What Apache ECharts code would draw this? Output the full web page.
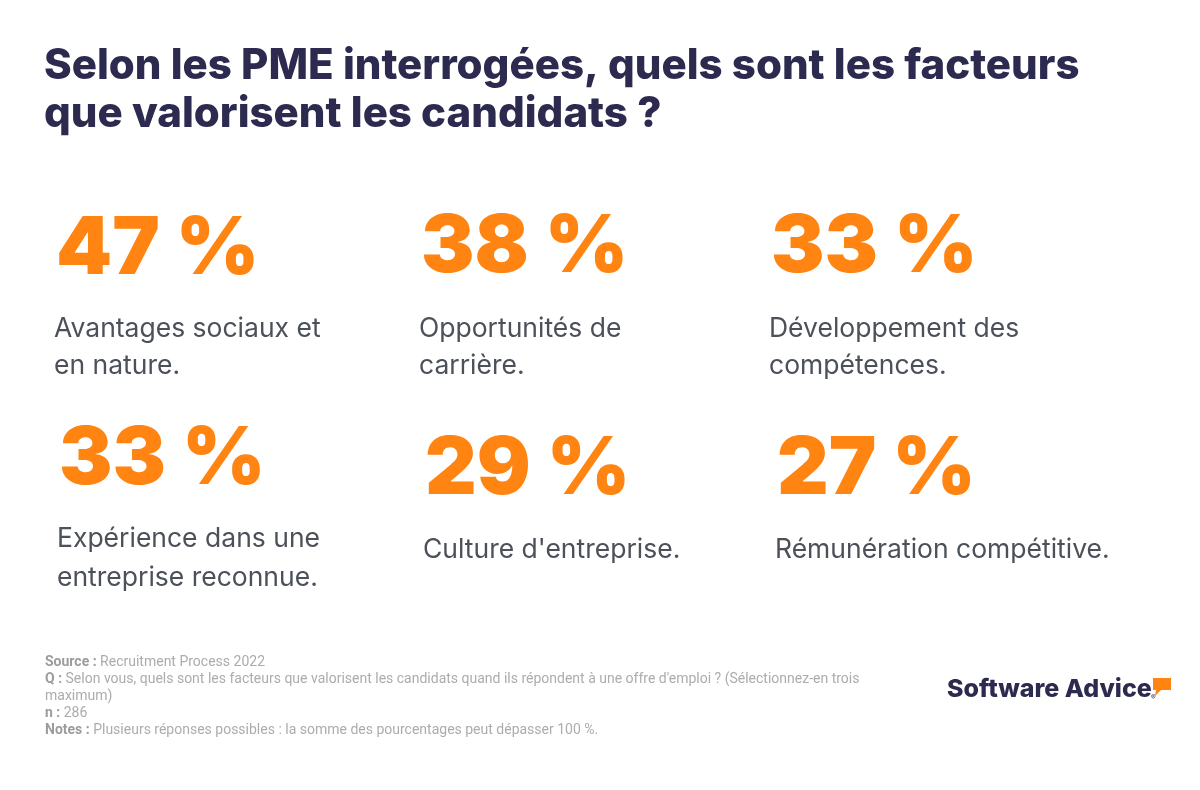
<!DOCTYPE html>
<html><head><meta charset="utf-8">
<script src="https://cdn.jsdelivr.net/npm/echarts@6/dist/echarts.min.js"></script>
<style>html,body{margin:0;padding:0;background:#fff}#c{width:1200px;height:790px}</style>
</head><body><div id="c"></div>
<script>
const titleLines = ["Selon les PME interrogées, quels sont les facteurs", "que valorisent les candidats ?"];
const values = [47, 38, 33, 33, 29, 27];
const labels = [
  ["Avantages sociaux et", "en nature."],
  ["Opportunités de", "carrière."],
  ["Développement des", "compétences."],
  ["Expérience dans une", "entreprise reconnue."],
  ["Culture d'entreprise."],
  ["Rémunération compétitive."]
];
const footerLines = [
  ["Source :", " Recruitment Process 2022"],
  ["Q :", " Selon vous, quels sont les facteurs que valorisent les candidats quand ils répondent à une offre d'emploi ? (Sélectionnez-en trois"],
  ["", "maximum)"],
  ["n :", " 286"],
  ["Notes :", " Plusieurs réponses possibles : la somme des pourcentages peut dépasser 100 %."]
];

// layout (positions only)
const cellX = [[56, 421, 771], [59, 425, 777]];
const numY = [[210, 208, 208], [420, 430, 430]];
const labY = [[[329, 366], [329, 366], [329, 366]], [[539, 578], [550], [550]]];

const chart = echarts.init(document.getElementById('c'), null, {renderer: 'canvas'});
const data = values.map((v, i) => [i % 3, Math.floor(i / 3), v]);

chart.setOption({
  backgroundColor: '#ffffff',
  animation: false,
  grid: {left: 0, right: 0, top: 0, bottom: 0},
  xAxis: {type: 'value', min: 0, max: 1200, show: false},
  yAxis: {type: 'value', min: 0, max: 790, inverse: true, show: false},
  series: [{
    type: 'custom',
    data: data,
    renderItem: function (params, api) {
      const col = api.value(0), row = api.value(1), v = api.value(2);
      const idx = params.dataIndex;
      const p = api.coord([cellX[row][col], numY[row][col]]);
      const children = [{
        type: 'text',
        style: {
          x: p[0], y: p[1], text: v + ' %',
          font: '900 80px Inter', fill: '#ff8412',
          verticalAlign: 'top', align: 'left'
        }
      }];
      labels[idx].forEach((t, k) => {
        const q = api.coord([cellX[row][col] - 2, labY[row][col][k]]);
        children.push({
          type: 'text',
          style: {
            x: q[0], y: q[1], text: t,
            font: '400 26.5px Inter', fill: '#4b5059',
            verticalAlign: 'middle', align: 'left'
          }
        });
      });
      return {type: 'group', children: children};
    }
  }],
  graphic: [].concat(
    titleLines.map((t, i) => ({
      type: 'text', left: 44, top: 45 + i * 48,
      style: {text: t, font: '800 42px Inter', fill: '#2d2a4f'}
    })),
    footerLines.map((l, i) => ({
      type: 'text', left: 45, top: 655 + i * 17,
      style: {
        text: (l[0] ? '{b|' + l[0] + '}' : '') + '{n|' + l[1] + '}',
        rich: {
          b: {font: '700 14px Roboto', fill: '#9c9c9c'},
          n: {font: '400 14px Roboto', fill: '#acacac'}
        }
      }
    })),
    [
      {type: 'text', left: 947, top: 677,
       style: {text: 'Software Advice', font: '800 25px Inter', fill: '#2d2a4f'}},
      {type: 'text', left: 1151, top: 694,
       style: {text: '®', font: '400 7px Inter', fill: '#2d2a4f'}},
      {type: 'polygon', shape: {points: [[1153, 678], [1171, 678], [1171, 690], [1161, 690], [1155, 696], [1156, 690], [1153, 690]]},
       style: {fill: '#ff8412'}}
    ]
  )
});
</script></body></html>
